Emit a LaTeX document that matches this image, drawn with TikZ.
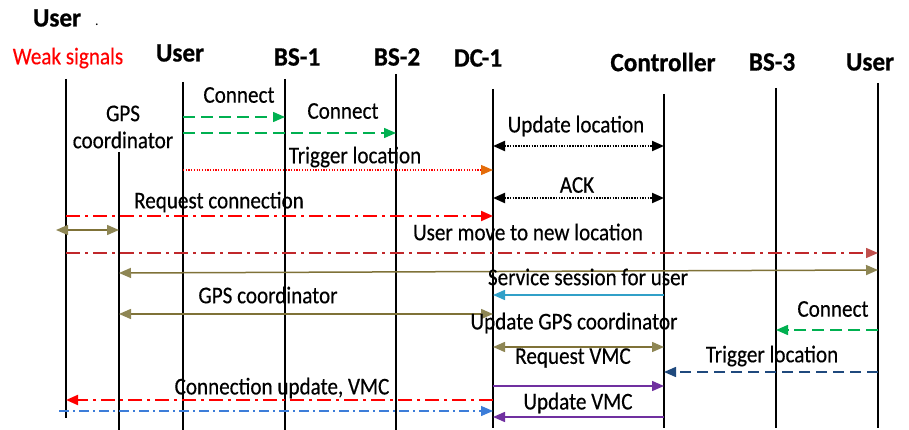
\documentclass[tikz,border=0pt]{standalone}
\usepackage{fontspec}
\setmainfont{Carlito}
\newfontfamily\lblfont{Carlito}[FakeStretch=0.88,FakeBold=0.4]
\newfontfamily\hdrfont{Carlito Bold}[FakeStretch=0.95,FakeBold=0.6]
\usetikzlibrary{arrows.meta}
\definecolor{grn}{HTML}{00B050}
\definecolor{redc}{HTML}{FF0000}
\definecolor{orangec}{HTML}{E46C0A}
\definecolor{dred}{HTML}{C0282B}
\definecolor{dredtip}{HTML}{C0504D}
\definecolor{olivec}{HTML}{7F7238}
\definecolor{olivetip}{HTML}{8E8654}
\definecolor{cyanc}{HTML}{31A0C8}
\definecolor{dblue}{HTML}{1F497D}
\definecolor{purp}{HTML}{7030A0}
\definecolor{lblue}{HTML}{3C7DD9}
\begin{document}
\begin{tikzpicture}[x=1pt,y=-1pt,
  life/.style={line width=1.5pt,black},
  lbl/.style={font=\lblfont\fontsize{24}{27}\selectfont,inner sep=0pt},
  hdr/.style={font=\hdrfont\fontsize{26.5}{29}\selectfont,inner sep=0pt},
  tip/.style={-{Triangle[length=12pt,width=10pt,color=#1]}},
  dtip/.style={{Triangle[length=12pt,width=10pt,color=#1]}-{Triangle[length=12pt,width=10pt,color=#1]}},
  gdash/.style={grn,line width=1.5pt,dash pattern=on 12pt off 6pt,tip=grn},
  bdot/.style={black,line width=2pt,dash pattern=on 1.5pt off 1.2pt,dtip=black},
  rdashdot/.style={redc,line width=2pt,dash pattern=on 14pt off 5pt on 3pt off 5pt,tip=redc},
  olive/.style={olivec,line width=1.5pt,dtip=olivetip},
]
\useasboundingbox (0,0) rectangle (909,430);
% lifelines
\coordinate (l1t) at (66,79);  \coordinate (l1b) at (66,418);
\coordinate (l2t) at (119,152); \coordinate (l2b) at (119,430);
\coordinate (l3t) at (183,82);  \coordinate (l3b) at (183,430);
\coordinate (l4t) at (285,79);  \coordinate (l4b) at (285,430);
\coordinate (l5t) at (396,74);  \coordinate (l5b) at (396,430);
\coordinate (l6t) at (493,89);  \coordinate (l6b) at (493,428);
\coordinate (l7t) at (664,94);  \coordinate (l7b) at (664,428);
\coordinate (l8t) at (776,88);  \coordinate (l8b) at (776,428);
\coordinate (l9t) at (878,83);  \coordinate (l9b) at (878,428);
\foreach \i in {1,...,9} \draw[life] (l\i t) -- (l\i b);
% headers
\node[hdr] (huser0) at (57,18) {User};
\node[inner sep=0pt,font=\fontsize{14}{14}\selectfont] (dot) at (97,25) {.};
\node[lbl,text=redc] (hweak) at (68,58) {Weak signals};
\node[hdr] (huser1) at (180,53) {User};
\node[hdr] (hbs1) at (297,57) {BS-1};
\node[hdr] (hbs2) at (397,57) {BS-2};
\node[hdr] (hdc1) at (478,58) {DC-1};
\node[hdr] (hctrl) at (663,62) {Controller};
\node[hdr] (hbs3) at (772,62) {BS-3};
\node[hdr] (huser2) at (870,62) {User};
\node[lbl,align=center] (hgps) at (123,127) {GPS\\[0pt]coordinator};
% messages
\draw[gdash] (l3t|-0,117) -- (l4t|-0,117);
\node[lbl] (m1) at (239,95) {Connect};
\draw[gdash] (l3t|-0,133) -- (l5t|-0,133);
\node[lbl] (m2) at (343,111) {Connect};
\draw[bdot] (l6t|-0,146) -- (l7t|-0,146);
\node[lbl] (m3) at (576,126) {Update location};
\draw[redc,line width=1.2pt,dash pattern=on 1.2pt off 1.5pt,tip=orangec] (l3t|-0,170) -- (l6t|-0,170);
\node[lbl] (m4) at (355,157) {Trigger location};
\draw[bdot] (l6t|-0,198) -- (l7t|-0,198);
\node[lbl] (m5) at (577,185) {ACK};
\draw[rdashdot] (l1t|-0,216) -- (l6t|-0,216);
\node[lbl] (m6) at (219,202) {Request connection};
\coordinate (gl) at (56,230);
\draw[olive] (gl) -- (l2t|-0,230);
\draw[dred,line width=1.5pt,dash pattern=on 14pt off 5pt on 3pt off 5pt,tip=dredtip] (l1t|-0,253) -- (l9t|-0,253);
\node[lbl] (m7) at (528,232) {User move to new location};
\draw[olive] (l2t|-0,273) -- (l9t|-0,270);
\node[lbl] (m8) at (588,277) {Service session for user};
\draw[cyanc,line width=1.5pt,tip=cyanc] (l7t|-0,295) -- (l6t|-0,295);
\draw[olive] (l2t|-0,314) -- (l6t|-0,314);
\node[lbl] (m9) at (268,295) {GPS coordinator};
\draw[gdash] (l9t|-0,330) -- (l8t|-0,330);
\node[lbl] (m10) at (833,309) {Connect};
\draw[olive] (l6t|-0,347) -- (l7t|-0,347);
\node[lbl] (m11) at (574,323) {Update GPS coordinator};
\draw[dblue,line width=1.5pt,dash pattern=on 11pt off 6pt,tip=dblue] (l9t|-0,372) -- (l7t|-0,372);
\node[lbl] (m12) at (772,356) {Trigger location};
\draw[purp,line width=1.5pt,tip=purp] (l6t|-0,386) -- (l7t|-0,386);
\node[lbl] (m13) at (573,358) {Request VMC};
\draw[rdashdot] (l6t|-0,400) -- (l1t|-0,400);
\node[lbl] (m14) at (282,388) {Connection update, VMC};
\coordinate (bl) at (59,411);
\draw[lblue,line width=1.3pt,dash pattern=on 10pt off 4pt on 2pt off 4pt,tip=lblue] (bl) -- (l6t|-0,411);
\draw[purp,line width=1.5pt,tip=purp] (l7t|-0,417) -- (l6t|-0,417);
\node[lbl] (m15) at (578,403) {Update VMC};
\end{tikzpicture}
\end{document}
